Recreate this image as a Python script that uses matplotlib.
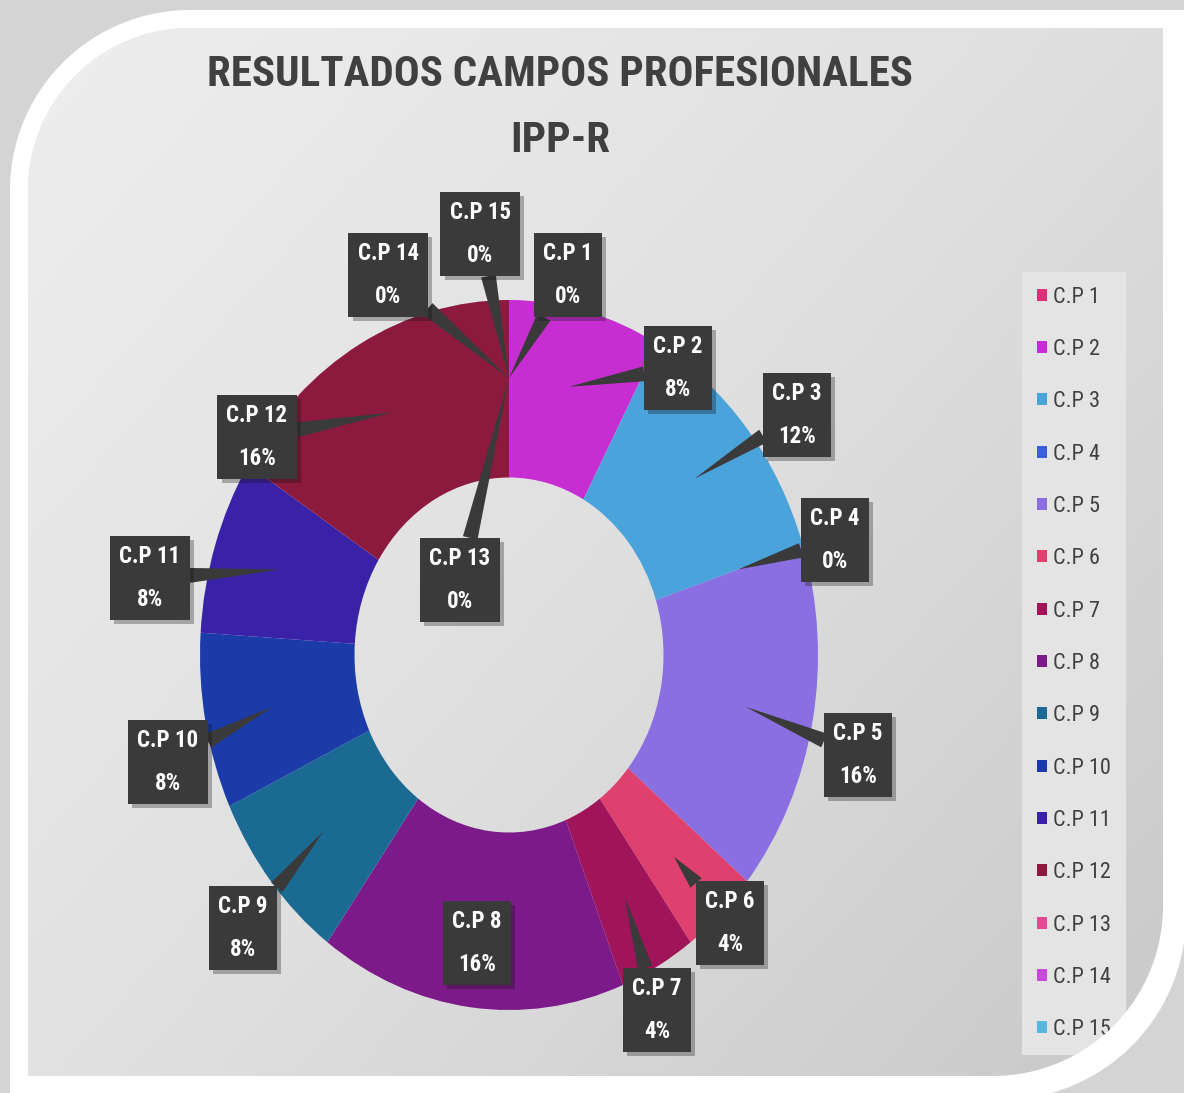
import numpy as np
import matplotlib
matplotlib.use("Agg")
import matplotlib.pyplot as plt
from matplotlib import font_manager
from matplotlib.path import Path
from matplotlib.patches import PathPatch
from matplotlib.colors import LinearSegmentedColormap
import matplotlib.patheffects as pe

# pick a narrow font if there is one
installed = {f.name for f in font_manager.fontManager.ttflist}
font = "DejaVu Sans"
for cand in ["Liberation Sans Narrow", "Roboto Condensed", "Open Sans Condensed",
             "Liberation Sans", "Roboto"]:
    if cand in installed:
        font = cand
        break
plt.rcParams['font.family'] = [font, 'DejaVu Sans']

# ---- data ----
categories = ["C.P 1", "C.P 2", "C.P 3", "C.P 4", "C.P 5", "C.P 6", "C.P 7", "C.P 8",
              "C.P 9", "C.P 10", "C.P 11", "C.P 12", "C.P 13", "C.P 14", "C.P 15"]
percentages = [0, 8, 12, 0, 16, 4, 4, 16, 8, 8, 8, 16, 0, 0, 0]
colors = ["#d93078", "#c62ed2", "#4ba3dc", "#3b5fd8", "#8a6fe2", "#e0406e", "#a0145a",
          "#7b1a88", "#1b6a93", "#1a3ba8", "#3a22a8", "#8c1a3e", "#e24a92", "#c84ad8",
          "#5ab6de"]
# label box centres (pixels from top-left of the picture)
label_px = [(568, 275), (678, 368), (797, 415), (835, 540), (858, 755), (730, 923),
            (657, 1010), (477, 943), (243, 928), (168, 762), (150, 578), (257, 437),
            (460, 580), (388, 275), (480, 234)]

W, H = 1184, 1093
fig = plt.figure(figsize=(W / 100, H / 100), dpi=100)
fig.patch.set_facecolor("#d4d4d4")


def rounded_rect(x0, y0, x1, y1, r_tl, r_br, n=60):
    # corners given with y pointing down, output in figure pixels (y up)
    t = np.linspace(np.pi, 1.5 * np.pi, n)
    xs = list(x0 + r_tl + r_tl * np.cos(t))
    ys = list(y0 + r_tl + r_tl * np.sin(t))
    xs.append(x1); ys.append(y0)
    t = np.linspace(0, 0.5 * np.pi, n)
    xs += list(x1 - r_br + r_br * np.cos(t))
    ys += list(y1 - r_br + r_br * np.sin(t))
    xs.append(x0); ys.append(y1)
    return np.column_stack([xs, H - np.array(ys)])


def compound(outer, inner):
    verts = np.vstack([outer, outer[:1], inner[::-1], inner[-1:]])
    codes = ([Path.MOVETO] + [Path.LINETO] * (len(outer) - 1) + [Path.CLOSEPOLY] +
             [Path.MOVETO] + [Path.LINETO] * (len(inner) - 1) + [Path.CLOSEPOLY])
    return Path(verts, codes)


outer = rounded_rect(10, 10, W + 2, 1100, 180, 185)
inner = rounded_rect(28, 28, 1163, 1076, 162, 170)
# clockwise, like the rounded shapes
full = np.array([[-5, H + 5], [W + 5, H + 5], [W + 5, -5], [-5, -5]])

# background with gradient inside the frame
bg = fig.add_axes([0, 0, 1, 1], zorder=0)
bg.set_xlim(0, W)
bg.set_ylim(0, H)
bg.axis("off")
yy, xx = np.mgrid[0:H:4, 0:W:4]
grad = 0.55 * xx / W + 0.45 * yy / H
cmap = LinearSegmentedColormap.from_list("bg", ["#efefef", "#e0e0e0", "#c8c8c8"])
im = bg.imshow(grad, extent=[0, W, 0, H], cmap=cmap, aspect="auto", origin="upper")
inner_patch = PathPatch(Path(inner), transform=bg.transData, fc="none", ec="none")
bg.add_patch(inner_patch)
im.set_clip_path(inner_patch)

# donut
cx, cy, rx, ry = 509, 655, 309, 355
ax = fig.add_axes([0, 0, 1, 1], zorder=2)
ax.patch.set_alpha(0)
wedges, _ = ax.pie(percentages, colors=colors, startangle=90, counterclock=False,
                   radius=1.0, wedgeprops=dict(width=0.5, linewidth=0))
ax.set_aspect("auto")
ax.set_xlim(-cx / rx, (W - cx) / rx)
ax.set_ylim((cy - H) / ry, cy / ry)
ax.axis("off")

total = sum(percentages)
start = 0.0
for i, (name, val) in enumerate(zip(categories, percentages)):
    mid = np.deg2rad((start + val / 2) / total * 360)
    start += val
    tip = (0.78 * np.sin(mid), 0.78 * np.cos(mid))
    px, py = label_px[i]
    ann = ax.annotate(f"{name}\n{val}%", xy=tip, xytext=(px, H - py), textcoords="figure pixels",
                      ha="center", va="center", color="white", fontsize=16.5, fontweight="bold",
                      linespacing=2.1, zorder=5,
                      bbox=dict(boxstyle="square,pad=0.4", fc="#3a3a3a", ec="none"),
                      arrowprops=dict(arrowstyle="wedge,tail_width=0.65,shrink_factor=0.5",
                                      fc="#3a3a3a", ec="none", shrinkA=0, shrinkB=0))
    ann.get_bbox_patch().set_path_effects(
        [pe.SimplePatchShadow(offset=(3, -3), alpha=0.3), pe.Normal()])

# titles
fig.text(560 / W, 1 - 75 / H, "RESULTADOS CAMPOS PROFESIONALES", ha="center", va="center",
         fontsize=31, fontweight="bold", color="#404040")
fig.text(560 / W, 1 - 140 / H, "IPP-R", ha="center", va="center",
         fontsize=31, fontweight="bold", color="#404040")

# legend
leg = fig.legend(wedges, categories, loc="upper left", bbox_to_anchor=(1022 / W, 1 - 272 / H),
                 frameon=True, facecolor="#e4e4e4", edgecolor="none", fancybox=False,
                 framealpha=1, fontsize=16, labelcolor="#404040", handlelength=0.45,
                 handleheight=0.45, handletextpad=0.3, labelspacing=1.41, borderpad=0.66,
                 borderaxespad=0)

# frame on top
ov = fig.add_axes([0, 0, 1, 1], zorder=10)
ov.set_xlim(0, W)
ov.set_ylim(0, H)
ov.axis("off")
ov.patch.set_alpha(0)
ov.add_patch(PathPatch(compound(full, outer), fc="#d4d4d4", ec="none"))
ov.add_patch(PathPatch(compound(outer, inner), fc="white", ec="none"))

fig.savefig("out.png", dpi=100)
